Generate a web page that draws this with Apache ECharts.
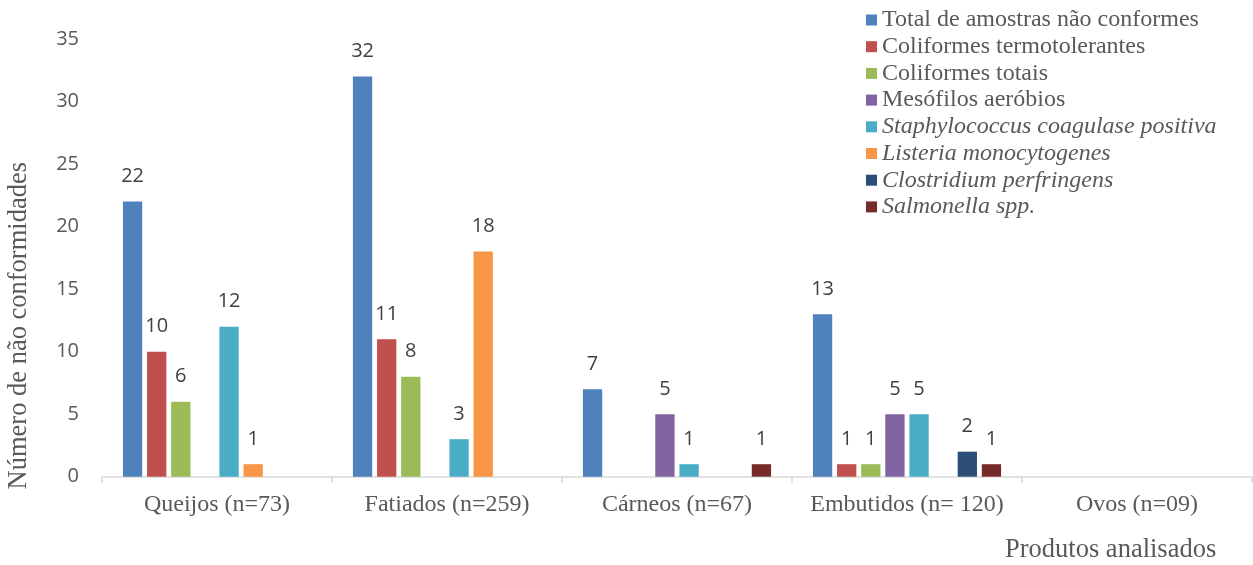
<!DOCTYPE html>
<html>
<head>
<meta charset="utf-8">
<script src="https://cdn.jsdelivr.net/npm/echarts@6/dist/echarts.min.js"></script>
<style>html,body{margin:0;padding:0;background:#fff}#c{width:1253px;height:565px}</style>
</head>
<body>
<div id="c"></div>
<script>
const categories = ['Queijos (n=73)', 'Fatiados (n=259)', 'Cárneos (n=67)', 'Embutidos (n= 120)', 'Ovos (n=09)'];
const seriesNames = ['Total de amostras não conformes', 'Coliformes termotolerantes', 'Coliformes totais', 'Mesófilos aeróbios', 'Staphylococcus coagulase positiva', 'Listeria monocytogenes', 'Clostridium perfringens', 'Salmonella spp.'];
const italicNames = ['Staphylococcus coagulase positiva', 'Listeria monocytogenes', 'Clostridium perfringens', 'Salmonella spp.'];
const colors = ['#4F81BD', '#C0504D', '#9BBB59', '#8064A2', '#4BACC6', '#F79646', '#2C4D75', '#772C2A'];
const totalNC = [22, 32, 7, 13, null];
const colTermo = [10, 11, null, 1, null];
const colTotais = [6, 8, null, 1, null];
const mesofilos = [null, null, 5, 5, null];
const staph = [12, 3, 1, 5, null];
const listeria = [1, 18, null, null, null];
const clostridium = [null, null, null, 2, null];
const salmonella = [null, null, 1, 1, null];
const yTicks = [0, 5, 10, 15, 20, 25, 30, 35];
const seriesData = [totalNC, colTermo, colTotais, mesofilos, staph, listeria, clostridium, salmonella];

const serif = "'Liberation Serif', 'Times New Roman', serif";
const sans = "'Open Sans', 'Noto Sans', sans-serif";

const chart = echarts.init(document.getElementById('c'), null, {renderer: 'canvas'});
chart.setOption({
  animation: false,
  color: colors,
  grid: {left: 102, right: 1, top: 39, bottom: 88.3, containLabel: false},
  legend: {
    orient: 'vertical',
    left: 861,
    top: 3,
    itemWidth: 11,
    itemHeight: 11,
    itemGap: 2.7,
    itemTextGap: 5,
    icon: 'rect',
    textStyle: {fontFamily: serif, fontSize: 24, color: '#595959', lineHeight: 24},
    data: seriesNames.map(n => italicNames.includes(n) ? {name: n, textStyle: {fontStyle: 'italic'}} : {name: n})
  },
  xAxis: {
    type: 'category',
    data: categories,
    axisLine: {lineStyle: {color: '#D9D9D9', width: 1.5}},
    axisTick: {show: true, length: 6, lineStyle: {color: '#D9D9D9', width: 1.5}},
    axisLabel: {interval: 0, fontFamily: serif, fontSize: 24, color: '#595959', margin: 16}
  },
  yAxis: {
    type: 'value',
    min: yTicks[0],
    max: yTicks[yTicks.length - 1],
    interval: 5,
    splitLine: {show: false},
    axisLine: {show: false},
    axisTick: {show: false},
    axisLabel: {fontFamily: sans, fontSize: 20, color: '#595959', margin: 23}
  },
  graphic: [
    {type: 'text', left: 6, top: 162, rotation: Math.PI / 2, style: {text: 'Número de não conformidades', font: "26.5px 'Liberation Serif'", fill: '#595959'}},
    {type: 'text', left: 1005, top: 537, style: {text: 'Produtos analisados', font: "26.5px 'Liberation Serif'", fill: '#595959'}}
  ],
  series: seriesNames.map((n, i) => ({
    name: n,
    type: 'bar',
    data: seriesData[i],
    barWidth: 19.3,
    barGap: '25%',
    itemStyle: {color: colors[i]},
    label: {show: true, position: 'top', distance: 15, fontFamily: sans, fontSize: 20, color: '#404040'}
  }))
});
</script>
</body>
</html>
